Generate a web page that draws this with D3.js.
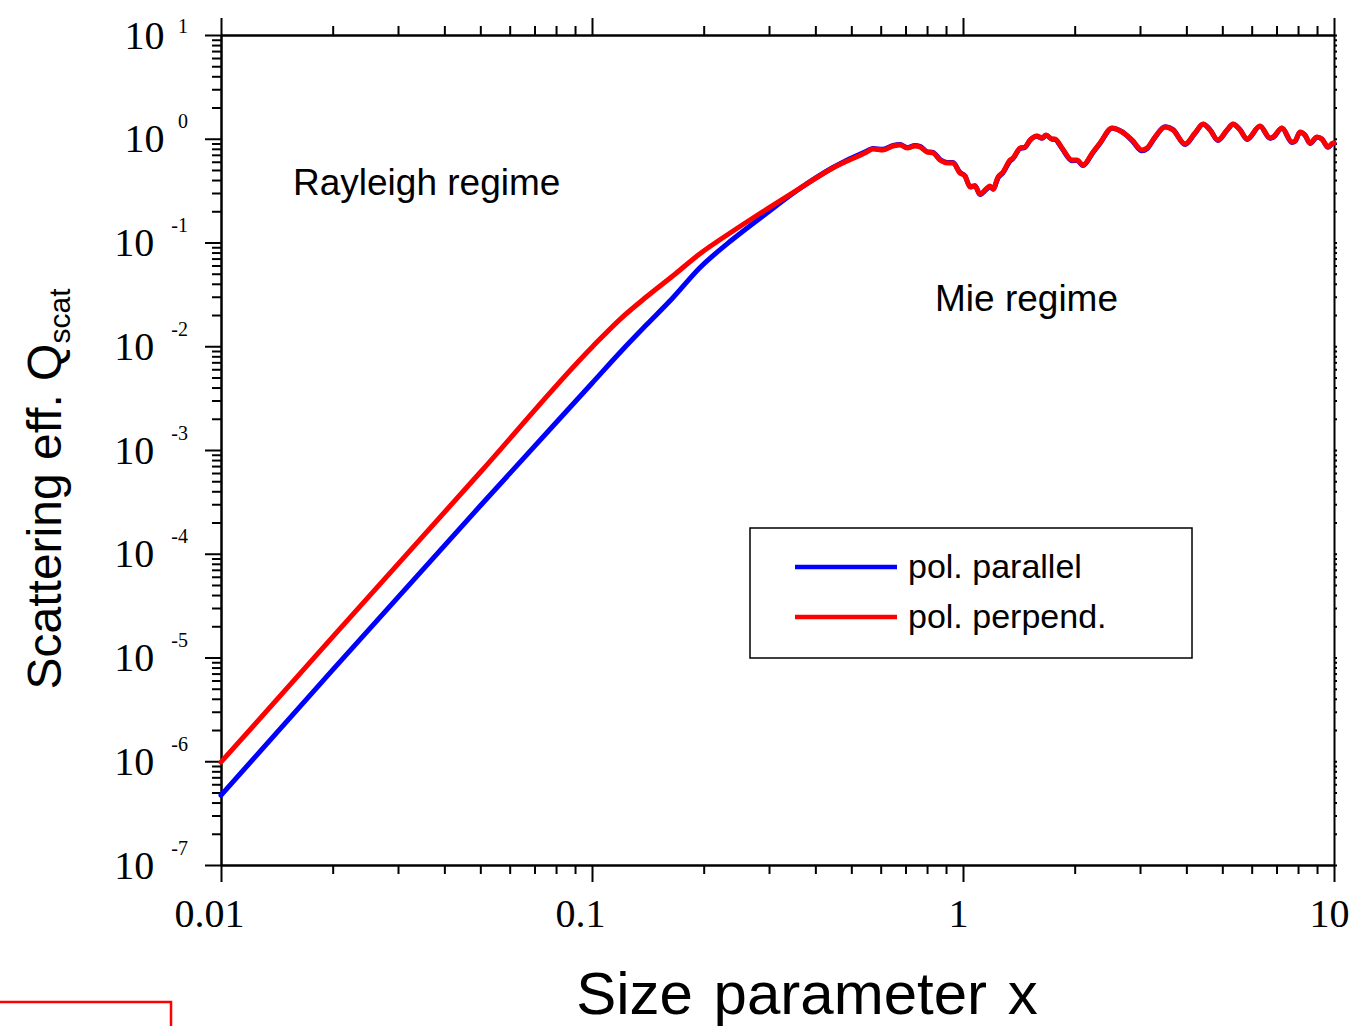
<!DOCTYPE html>
<html>
<head>
<meta charset="utf-8">
<script src="https://cdn.jsdelivr.net/npm/d3@7"></script>
<style>
  html, body { margin: 0; padding: 0; background: #fff; }
  svg { display: block; }
</style>
</head>
<body>
<svg id="chart" width="1360" height="1026"></svg>
<script>
// Size parameter x (shared sampling for both polarisations)
const sizeParam = [
  0.01, 0.02, 0.05, 0.1, 0.12, 0.14, 0.165, 0.195, 0.24, 0.296, 0.364, 0.446,
  0.551, 0.572, 0.609, 0.648, 0.677, 0.707, 0.742, 0.766, 0.800, 0.830, 0.867,
  0.906, 0.940, 0.981, 1.012, 1.045, 1.077, 1.111, 1.161, 1.182, 1.205, 1.243,
  1.282, 1.339, 1.364, 1.425, 1.469, 1.516, 1.583, 1.633, 1.674, 1.738, 1.770,
  1.849, 1.967, 2.029, 2.106, 2.241, 2.340, 2.522, 2.683, 2.855, 3.038, 3.133,
  3.293, 3.504, 3.682, 3.967, 4.220, 4.436, 4.632, 4.867, 5.147, 5.344, 5.581,
  5.831, 6.318, 6.722, 6.848, 7.240, 7.704, 7.852, 8.098, 8.354, 8.616, 9.000,
  9.283, 9.634, 9.938, 10
];

// Scattering efficiency, polarisation parallel
const qParallel = [
  4.7e-7, 7.6e-6, 2.9e-4, 4.4e-3, 9.0e-3, 0.0160, 0.0292, 0.0568, 0.108, 0.1925, 0.333, 0.528,
  0.762, 0.805, 0.790, 0.862, 0.880, 0.822, 0.860, 0.845, 0.752, 0.740, 0.632,
  0.592, 0.590, 0.474, 0.440, 0.345, 0.352, 0.290, 0.330, 0.347, 0.326, 0.420,
  0.470, 0.610, 0.645, 0.806, 0.826, 0.965, 1.055, 1.010, 1.080, 0.990, 0.985,
  0.805, 0.615, 0.618, 0.552, 0.738, 0.900, 1.262, 1.170, 0.960, 0.765, 0.800,
  1.030, 1.305, 1.225, 0.880, 1.125, 1.380, 1.225, 0.962, 1.205, 1.380, 1.222,
  0.985, 1.318, 1.010, 1.030, 1.260, 0.922, 0.945, 1.155, 1.080, 0.902, 1.032,
  0.988, 0.826, 0.905, 0.905
];

// Scattering efficiency, polarisation perpendicular
const qPerpend = [
  9.8e-7, 1.58e-5, 6.1e-4, 9.8e-3, 0.0187, 0.0298, 0.0475, 0.0775, 0.129, 0.210, 0.335, 0.523,
  0.745, 0.797, 0.779, 0.851, 0.871, 0.814, 0.851, 0.833, 0.745, 0.729, 0.624,
  0.584, 0.584, 0.468, 0.438, 0.343, 0.350, 0.293, 0.335, 0.350, 0.328, 0.428,
  0.478, 0.624, 0.652, 0.814, 0.833, 0.973, 1.063, 1.017, 1.087, 0.994, 0.994,
  0.814, 0.624, 0.624, 0.558, 0.745, 0.910, 1.269, 1.162, 0.973, 0.779, 0.814,
  1.040, 1.298, 1.214, 0.890, 1.136, 1.387, 1.214, 0.973, 1.214, 1.387, 1.214,
  0.994, 1.327, 1.017, 1.040, 1.269, 0.930, 0.951, 1.162, 1.087, 0.910, 1.040,
  0.994, 0.833, 0.910, 0.910
];

const xTickValues = [0.01, 0.1, 1, 10];
const xTickLabels = ["0.01", "0.1", "1", "10"];
const yExponents = [1, 0, -1, -2, -3, -4, -5, -6, -7];
const seriesNames = ["pol. parallel", "pol. perpend."];
const seriesColors = ["#0000ff", "#ff0000"];
const regimeLabels = ["Rayleigh regime", "Mie regime"];

const svg = d3.select("#chart");
const plot = { left: 221, right: 1334, top: 35, bottom: 865 };

const x = d3.scaleLog().domain([0.01, 10]).range([plot.left, plot.right]);
const y = d3.scaleLog().domain([1e-7, 10]).range([plot.bottom, plot.top]);

// 2..9 x 10^e for each decade of a domain
function minorTicks(scale) {
  const [lo, hi] = scale.domain().map(v => Math.round(Math.log10(v)));
  const out = [];
  for (let e = lo; e < hi; e++) for (let m = 2; m <= 9; m++) out.push(m * Math.pow(10, e));
  return out;
}
const xMinor = minorTicks(x);
const yMinor = minorTicks(y);
const yMajor = yExponents.map(e => Math.pow(10, e));

function styleAxis(g) {
  g.select(".domain").attr("stroke", "#000").attr("stroke-width", 2);
  g.selectAll(".tick line").attr("stroke", "#000").attr("stroke-width", 2);
}

const serif = "'Liberation Serif', 'Times New Roman', serif";
const sans = "'Liberation Sans', Arial, Helvetica, sans-serif";

const axes = svg.append("g");
// bottom
axes.append("g").attr("transform", `translate(0,${plot.bottom})`)
  .call(d3.axisBottom(x).tickValues(xMinor).tickSize(9).tickSizeOuter(0).tickFormat(""))
  .call(styleAxis);
const bottomMajor = axes.append("g").attr("transform", `translate(0,${plot.bottom})`)
  .call(d3.axisBottom(x).tickValues(xTickValues).tickSize(17).tickSizeOuter(0)
    .tickFormat((d, i) => xTickLabels[i]).tickPadding(0))
  .call(styleAxis);
bottomMajor.selectAll(".tick text")
  .attr("y", 62).attr("dy", null)
  .attr("dx", d => (d < 1 ? -12 : -5))
  .attr("font-family", serif)
  .attr("font-size", 40).attr("fill", "#000");
// top
axes.append("g").attr("transform", `translate(0,${plot.top})`)
  .call(d3.axisTop(x).tickValues(xMinor).tickSize(9).tickSizeOuter(0).tickFormat(""))
  .call(styleAxis);
axes.append("g").attr("transform", `translate(0,${plot.top})`)
  .call(d3.axisTop(x).tickValues(xTickValues).tickSize(17).tickSizeOuter(0).tickFormat(""))
  .call(styleAxis);
// left
axes.append("g").attr("transform", `translate(${plot.left},0)`)
  .call(d3.axisLeft(y).tickValues(yMinor).tickSize(9).tickSizeOuter(0).tickFormat(""))
  .call(styleAxis);
axes.append("g").attr("transform", `translate(${plot.left},0)`)
  .call(d3.axisLeft(y).tickValues(yMajor).tickSize(16).tickSizeOuter(0).tickFormat(""))
  .call(styleAxis);
// right
axes.append("g").attr("transform", `translate(${plot.right},0)`)
  .call(d3.axisRight(y).tickValues(yMinor.concat(yMajor)).tickSize(3).tickSizeOuter(0).tickFormat(""))
  .call(styleAxis);

// y tick labels: 10 with superscript exponent
const yLabels = svg.append("g").attr("font-family", serif).attr("fill", "#000");
yExponents.forEach(e => {
  const ty = y(Math.pow(10, e));
  const exp = yLabels.append("text")
    .attr("x", 188).attr("y", Math.max(ty - 10.5, 33))
    .attr("text-anchor", "end").attr("font-size", 20)
    .text(String(e));
  const w = exp.node().getComputedTextLength() + (e < 0 ? 3.5 : 0);
  yLabels.append("text")
    .attr("x", 188 - w - 13.5).attr("y", ty + 13.5)
    .attr("text-anchor", "end").attr("font-size", 40)
    .text("10");
});

// curves
const line = d3.line().x(d => x(d[0])).y(d => y(d[1])).curve(d3.curveMonotoneX);
const series = [qParallel, qPerpend].map((q, i) => ({
  name: seriesNames[i], color: seriesColors[i],
  points: sizeParam.map((s, j) => [s, q[j]])
}));
svg.append("g").selectAll("path").data(series).join("path")
  .attr("d", d => line(d.points))
  .attr("fill", "none")
  .attr("stroke", d => d.color)
  .attr("stroke-width", 5)
  .attr("stroke-linejoin", "round")
  .attr("stroke-linecap", "round");

// regime annotations
svg.append("text").attr("x", 293).attr("y", 195)
  .attr("font-family", sans).attr("font-size", 37).attr("fill", "#000")
  .text(regimeLabels[0]);
svg.append("text").attr("x", 935).attr("y", 311)
  .attr("font-family", sans).attr("font-size", 37).attr("fill", "#000")
  .text(regimeLabels[1]);

// legend
const legend = svg.append("g");
legend.append("rect").attr("x", 750).attr("y", 528).attr("width", 442).attr("height", 130)
  .attr("fill", "#fff").attr("stroke", "#000").attr("stroke-width", 1.5);
const items = legend.selectAll("g.item").data(series).join("g").attr("class", "item")
  .attr("transform", (d, i) => `translate(0,${567 + i * 50})`);
items.append("line").attr("x1", 795).attr("x2", 897).attr("y1", 0).attr("y2", 0)
  .attr("stroke", d => d.color).attr("stroke-width", 4.5);
items.append("text").attr("x", 908).attr("y", 11)
  .attr("font-family", sans).attr("font-size", 34).attr("fill", "#000")
  .text(d => d.name);

// axis titles
svg.append("text").attr("x", 807).attr("y", 1014)
  .attr("text-anchor", "middle").attr("font-family", sans).attr("font-size", 60)
  .attr("fill", "#000").attr("word-spacing", 4).text("Size parameter x");
const yTitle = svg.append("text")
  .attr("transform", "translate(61,489) rotate(-90)")
  .attr("text-anchor", "middle").attr("font-family", sans).attr("font-size", 48)
  .attr("fill", "#000");
yTitle.append("tspan").text("Scattering eff. Q");
yTitle.append("tspan").attr("font-size", 30).attr("dy", 9).text("scat");

// frame mark in the lower-left corner
svg.append("rect").attr("x", -3).attr("y", 1002).attr("width", 174).attr("height", 40)
  .attr("fill", "none").attr("stroke", "#ff0000").attr("stroke-width", 2.5);
</script>
</body>
</html>
